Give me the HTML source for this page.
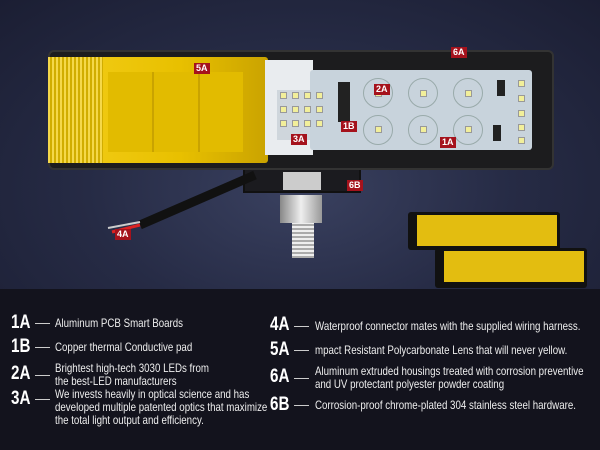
<!DOCTYPE html>
<html><head><meta charset="utf-8"><style>
*{margin:0;padding:0;box-sizing:border-box}
body{width:600px;height:450px;background:#13131d;position:relative;overflow:hidden;font-family:"Liberation Sans",sans-serif;color:#eee}
.top{position:absolute;left:0;top:0;width:600px;height:289px;background:radial-gradient(ellipse at 50% 65%,#3a4160 0%,#262b45 50%,#1b1e33 100%)}
.abs{position:absolute}
.lab{position:absolute;background:#a5121c;color:#fff;font:bold 9px "Liberation Sans",sans-serif;padding:0 2px;line-height:11px}
.k{position:absolute;font:bold 19px "Liberation Sans",sans-serif;color:#fff;transform:scaleX(0.8);transform-origin:left}
.ln{position:absolute;height:1px;background:#ccc;width:15px}
.t{position:absolute;font-size:12px;line-height:13px;color:#eee;white-space:nowrap;transform:scaleX(0.81);transform-origin:left top}
.led{position:absolute;width:7px;height:7px;background:#f2ef9a;border:1px solid #999}
.ring{position:absolute;width:30px;height:30px;border:1px solid #9aa;border-radius:50%}
</style></head><body>
<div class="top"></div>
<div class="abs" style="left:48px;top:50px;width:506px;height:120px;background:#1c1c1e;border-radius:6px;border:2px solid #333"></div>
<div class="abs" style="left:48px;top:57px;width:220px;height:106px;background:linear-gradient(90deg,#d9b400,#f2cc16 10%,#e8c000 60%,#caa300);border-radius:3px"></div>
<div class="abs" style="left:48px;top:57px;width:55px;height:106px;background:repeating-linear-gradient(90deg,#f5d84a 0 2px,#d1ad00 2px 4px)"></div>
<div class="abs" style="left:108px;top:72px;width:135px;height:80px;background:repeating-linear-gradient(90deg,#e2bb00 0 44px,#c9a300 44px 46px)"></div>
<div class="abs" style="left:265px;top:60px;width:48px;height:95px;background:#e9ecef"></div>
<div class="abs" style="left:277px;top:90px;width:50px;height:50px;background:#cfd6dc"></div>
<div class="abs" style="left:310px;top:70px;width:222px;height:80px;background:#c8d3dc;border-radius:3px"></div>
<div class="led" style="left:280px;top:92px"></div><div class="led" style="left:292px;top:92px"></div><div class="led" style="left:304px;top:92px"></div><div class="led" style="left:316px;top:92px"></div>
<div class="led" style="left:280px;top:106px"></div><div class="led" style="left:292px;top:106px"></div><div class="led" style="left:304px;top:106px"></div><div class="led" style="left:316px;top:106px"></div>
<div class="led" style="left:280px;top:120px"></div><div class="led" style="left:292px;top:120px"></div><div class="led" style="left:304px;top:120px"></div><div class="led" style="left:316px;top:120px"></div>
<div class="ring" style="left:363px;top:78px"></div><div class="ring" style="left:408px;top:78px"></div><div class="ring" style="left:453px;top:78px"></div>
<div class="ring" style="left:363px;top:115px"></div><div class="ring" style="left:408px;top:115px"></div><div class="ring" style="left:453px;top:115px"></div>
<div class="led" style="left:375px;top:90px"></div><div class="led" style="left:420px;top:90px"></div><div class="led" style="left:465px;top:90px"></div>
<div class="led" style="left:375px;top:126px"></div><div class="led" style="left:420px;top:126px"></div><div class="led" style="left:465px;top:126px"></div>
<div class="led" style="left:518px;top:80px"></div><div class="led" style="left:518px;top:95px"></div><div class="led" style="left:518px;top:110px"></div><div class="led" style="left:518px;top:124px"></div><div class="led" style="left:518px;top:137px"></div>
<div class="abs" style="left:338px;top:82px;width:12px;height:40px;background:#222"></div>
<div class="abs" style="left:497px;top:80px;width:8px;height:16px;background:#222"></div>
<div class="abs" style="left:493px;top:125px;width:8px;height:16px;background:#222"></div>
<div class="abs" style="left:243px;top:170px;width:118px;height:23px;border:2px solid #111;border-top:none;background:#1b1b1f"></div>
<div class="abs" style="left:283px;top:172px;width:38px;height:18px;background:#ccc"></div>
<div class="abs" style="left:280px;top:195px;width:42px;height:28px;background:linear-gradient(90deg,#888,#eee,#999)"></div>
<div class="abs" style="left:292px;top:223px;width:22px;height:35px;background:repeating-linear-gradient(0deg,#aaa 0 2px,#eee 2px 4px)"></div>
<svg class="abs" style="left:0;top:0" width="600" height="289"><line x1="255" y1="175" x2="140" y2="225" stroke="#111" stroke-width="9"/><line x1="140" y1="225" x2="112" y2="232" stroke="#d22" stroke-width="3"/><line x1="140" y1="222" x2="108" y2="228" stroke="#ccc" stroke-width="2"/></svg>
<div class="abs" style="left:408px;top:212px;width:152px;height:38px;background:#111;border-radius:3px"></div>
<div class="abs" style="left:417px;top:215px;width:140px;height:31px;background:#e3bd10"></div>
<div class="abs" style="left:435px;top:248px;width:152px;height:40px;background:#111;border-radius:3px"></div>
<div class="abs" style="left:444px;top:251px;width:140px;height:31px;background:#e3bd10"></div>
<div class="lab" style="left:194px;top:63px">5A</div>
<div class="lab" style="left:451px;top:47px">6A</div>
<div class="lab" style="left:374px;top:84px">2A</div>
<div class="lab" style="left:341px;top:121px">1B</div>
<div class="lab" style="left:291px;top:134px">3A</div>
<div class="lab" style="left:440px;top:137px">1A</div>
<div class="lab" style="left:347px;top:180px">6B</div>
<div class="lab" style="left:115px;top:229px">4A</div>
<div class="k" style="left:11px;top:312px">1A</div><div class="ln" style="left:35px;top:323px"></div><div class="t" style="left:55px;top:317px">Aluminum PCB Smart Boards</div>
<div class="k" style="left:11px;top:336px">1B</div><div class="ln" style="left:35px;top:347px"></div><div class="t" style="left:55px;top:341px">Copper thermal Conductive pad</div>
<div class="k" style="left:11px;top:363px">2A</div><div class="ln" style="left:35px;top:375px"></div><div class="t" style="left:55px;top:362px">Brightest high-tech 3030 LEDs from<br>the best-LED manufacturers</div>
<div class="k" style="left:11px;top:388px">3A</div><div class="ln" style="left:35px;top:399px"></div><div class="t" style="left:55px;top:388px">We invests heavily in optical science and has<br>developed multiple patented optics that maximize<br>the total light output and efficiency.</div>
<div class="k" style="left:270px;top:314px">4A</div><div class="ln" style="left:294px;top:326px"></div><div class="t" style="left:315px;top:320px">Waterproof connector mates with the supplied wiring harness.</div>
<div class="k" style="left:270px;top:339px">5A</div><div class="ln" style="left:294px;top:350px"></div><div class="t" style="left:315px;top:344px">mpact Resistant Polycarbonate Lens that will never yellow.</div>
<div class="k" style="left:270px;top:366px">6A</div><div class="ln" style="left:294px;top:378px"></div><div class="t" style="left:315px;top:365px">Aluminum extruded housings treated with corrosion preventive<br>and UV protectant polyester powder coating</div>
<div class="k" style="left:270px;top:394px">6B</div><div class="ln" style="left:294px;top:405px"></div><div class="t" style="left:315px;top:399px">Corrosion-proof chrome-plated 304 stainless steel hardware.</div>
</body></html>
